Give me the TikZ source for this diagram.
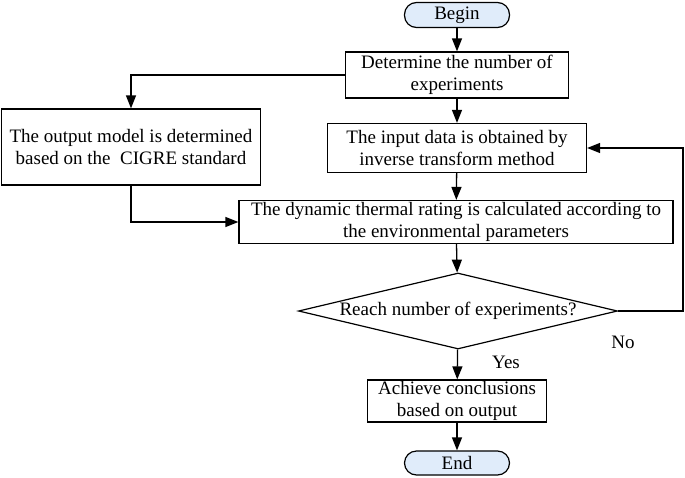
\documentclass[tikz,border=0pt]{standalone}
\usepackage{fontspec}
\setmainfont{Liberation Serif}
\usetikzlibrary{arrows.meta,positioning,shapes.geometric}
\definecolor{pill}{RGB}{224,236,250}

\begin{document}
\begin{tikzpicture}[
  x=1pt,y=-1pt,
  every node/.style={font=\fontsize{19}{22}\selectfont},
  box/.style={draw,line width=1.2pt,align=center,inner sep=0pt},
  term/.style={draw,line width=1.2pt,rounded corners=12pt,fill=pill,minimum width=105pt,minimum height=25pt,inner sep=0pt},
  arr/.style={-{Triangle[length=13pt,width=10pt]},line width=1.3pt}
]
\useasboundingbox (0,0) rectangle (685,477);
\node[term] (start) at (457,15) {Begin};
\node[box,minimum width=223pt,minimum height=46pt] (num) at (457,75) {Determine the number of\\experiments};
\node[box,minimum width=259pt,minimum height=49pt] (input) at (457,148) {The input data is obtained by\\inverse transform method};
\node[box,minimum width=259pt,minimum height=76pt] (model) at (131,147) {The output model is determined\\based on the~~CIGRE standard};
\node[box,minimum width=434pt,minimum height=43pt] (rating) at (456,222) {The dynamic thermal rating is calculated according to\\the environmental parameters};
\node[box,diamond,aspect=4.2,minimum width=319pt,minimum height=76pt] (reach) at (458,311) {Reach number of experiments?};
\node[box,minimum width=179pt,minimum height=42pt] (concl) at (457,401) {Achieve conclusions\\based on output};
\node[term,minimum height=24pt] (stop) at (457,463) {End};
\coordinate (back) at (683,311);
\node (yes) at (506,362) {Yes};
\node (no) at (623,342) {No};
% main flow
\draw[arr] (start) -- (num);
\draw[arr] (num) -- (input);
\draw[arr] (input) -- (rating);
\draw[arr] (rating) -- (reach);
\draw[arr] (reach) -- (concl);
\draw[arr] (concl) -- (stop);
% side branches
\draw[arr] (num.west) -| (model.north);
\draw[arr] (model.south) |- (rating.west);
\draw[arr] (reach.east) -- (back) |- (input.east);
\end{tikzpicture}
\end{document}
